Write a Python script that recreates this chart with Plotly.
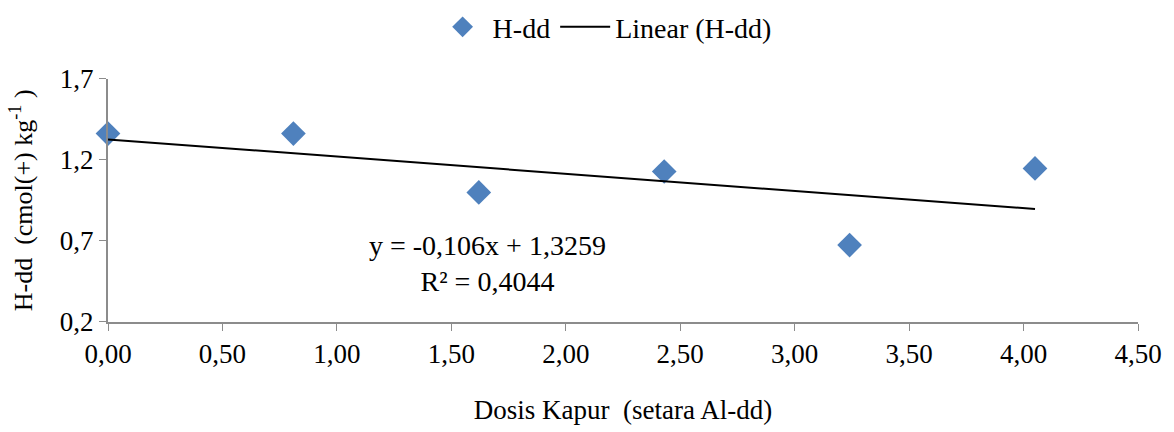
import plotly.graph_objects as go

# Data
dose = [0.00, 0.81, 1.62, 2.43, 3.24, 4.05]
h_dd = [1.362, 1.362, 0.999, 1.128, 0.674, 1.147]

# Trendline coefficients as printed in the chart
slope = -0.106
intercept = 1.3259
eq_text = "y = -0,106x + 1,3259<br>R² = 0,4044"

x_ticks = [0, 0.5, 1.0, 1.5, 2.0, 2.5, 3.0, 3.5, 4.0, 4.5]
y_ticks = [0.2, 0.7, 1.2, 1.7]

font_family = "Liberation Serif, Times New Roman, serif"

trend_x = [min(dose), max(dose)]
trend_y = [slope * v + intercept for v in trend_x]

fig = go.Figure()
fig.add_trace(go.Scatter(
    x=dose, y=h_dd, mode="markers", name="H-dd",
    marker=dict(symbol="diamond", size=19, color="#4F81BD",
                line=dict(width=0)),
    cliponaxis=False,
))
fig.add_trace(go.Scatter(
    x=trend_x, y=trend_y, mode="lines", name="Linear (H-dd)",
    line=dict(color="black", width=2),
))

fig.add_annotation(
    x=1.66, y=0.56, xref="x", yref="y", text=eq_text, showarrow=False,
    font=dict(family=font_family, size=28, color="black"), align="center",
)

fig.update_layout(
    width=1174, height=432,
    margin=dict(l=108, r=32, t=78, b=110),
    paper_bgcolor="white", plot_bgcolor="white",
    separators=",.",
    font=dict(family=font_family, size=27, color="black"),
    showlegend=True,
    legend=dict(orientation="h", x=0.515, xanchor="center",
                xref="container", yref="container", y=0.995,
                yanchor="top", font=dict(size=28), itemwidth=50,
                bgcolor="rgba(0,0,0,0)"),
    xaxis=dict(
        range=[0, 4.5], tickvals=x_ticks, tickformat=".2f",
        showline=True, linecolor="#8c8c8c", linewidth=2,
        ticks="outside", ticklen=7, tickcolor="#8c8c8c", tickwidth=1,
        showgrid=False, zeroline=False,
        tickfont=dict(size=27),
        title=dict(text="Dosis Kapur  (setara Al-dd)", font=dict(size=27),
                   standoff=32),
    ),
    yaxis=dict(
        range=[0.2, 1.7], tickvals=y_ticks, tickformat=".1f",
        showline=True, linecolor="#8c8c8c", linewidth=2,
        ticks="outside", ticklen=7, tickcolor="#8c8c8c", tickwidth=1,
        showgrid=False, zeroline=False,
        tickfont=dict(size=27),
        title=dict(text="H-dd  (cmol(+) kg<sup>-1</sup> )", font=dict(size=26),
                   standoff=20),
    ),
)

fig.write_html("out.html", config={"displayModeBar": False},
               post_script="document.body.style.margin='0';document.body.style.padding='0';")
